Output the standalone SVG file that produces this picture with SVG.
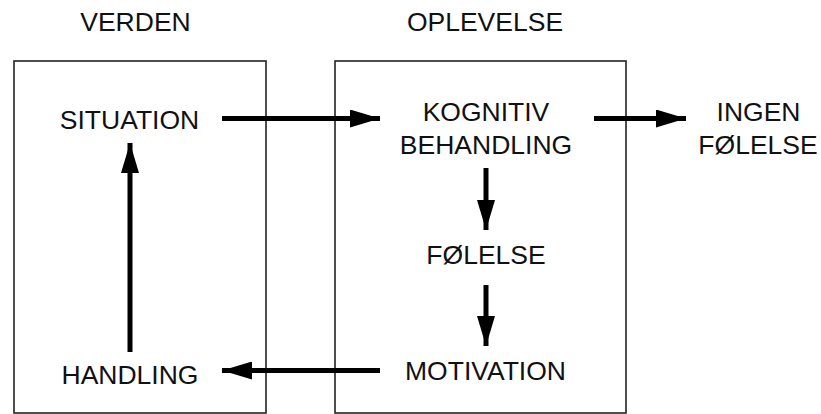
<svg xmlns="http://www.w3.org/2000/svg" width="821" height="414" viewBox="0 0 821 414">
<defs>
<style>
.t{font-family:"Liberation Sans",Arial,sans-serif;font-size:26.5px;fill:#111;text-anchor:middle}
.box{fill:#fff;stroke:#222;stroke-width:1.6}
.c{stroke:#000;stroke-width:5;fill:none}
</style>
<marker id="ah" viewBox="0 0 30 18" refX="30" refY="9" markerWidth="30" markerHeight="18" markerUnits="userSpaceOnUse" orient="auto">
<path d="M0,0 L30,9 L0,18 Z" fill="#000"/>
</marker>
</defs>
<rect width="821" height="414" fill="#fff"/>
<g id="verden">
<rect class="box" x="14" y="61" width="252" height="352"/>
<text class="t" x="135.5" y="31">VERDEN</text>
</g>
<g id="oplevelse">
<rect class="box" x="335" y="61" width="291" height="352"/>
<text class="t" x="485" y="31">OPLEVELSE</text>
</g>
<g id="situation"><text class="t" x="129.5" y="129">SITUATION</text></g>
<g id="kognitiv"><text class="t" x="486" y="121">KOGNITIV</text><text class="t" x="486" y="154">BEHANDLING</text></g>
<g id="ingen"><text class="t" x="758.5" y="121">INGEN</text><text class="t" x="758" y="154">FØLELSE</text></g>
<g id="folelse"><text class="t" x="486" y="264">FØLELSE</text></g>
<g id="motivation"><text class="t" x="485.5" y="380">MOTIVATION</text></g>
<g id="handling"><text class="t" x="130" y="384">HANDLING</text></g>
<g id="connectors">
<line class="c" x1="222" y1="118.5" x2="380" y2="118.5" marker-end="url(#ah)"/>
<line class="c" x1="594" y1="118.5" x2="686" y2="118.5" marker-end="url(#ah)"/>
<line class="c" x1="486" y1="168" x2="486" y2="230" marker-end="url(#ah)"/>
<line class="c" x1="486" y1="285" x2="486" y2="346" marker-end="url(#ah)"/>
<line class="c" x1="380" y1="370.5" x2="222" y2="370.5" marker-end="url(#ah)"/>
<line class="c" x1="130" y1="352" x2="130" y2="143" marker-end="url(#ah)"/>
</g>
</svg>
